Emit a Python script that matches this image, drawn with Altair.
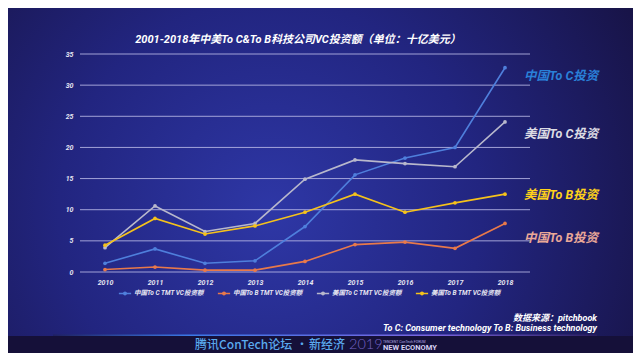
import altair as alt
import pandas as pd

years = ["2010", "2011", "2012", "2013", "2014", "2015", "2016", "2017", "2018"]
series_names = ["中国To C TMT VC投资额", "中国To B TMT VC投资额", "美国To C TMT VC投资额", "美国To B TMT VC投资额"]
cn_toc = [1.4, 3.7, 1.4, 1.8, 7.3, 15.6, 18.3, 20.0, 32.8]
cn_tob = [0.4, 0.8, 0.3, 0.3, 1.7, 4.4, 4.8, 3.8, 7.8]
us_toc = [3.9, 10.6, 6.5, 7.8, 14.9, 18.0, 17.4, 16.9, 24.1]
us_tob = [4.3, 8.6, 6.1, 7.4, 9.6, 12.5, 9.6, 11.1, 12.5]
line_colors = ["#4f7fdc", "#e8794a", "#b8b8cc", "#f5c21b"]
y_ticks = [0, 5, 10, 15, 20, 25, 30, 35]

end_labels = ["中国To C投资", "美国To C投资", "美国To B投资", "中国To B投资"]
end_label_y = [31.4, 22.2, 12.4, 5.5]
end_label_colors = ["#2a80d8", "#dcdce4", "#ffd21a", "#eaa898"]

title_text = "2001-2018年中美To C&To B科技公司VC投资额（单位：十亿美元）"
source_lines = ["数据来源：pitchbook", "To C:  Consumer technology  To B: Business technology"]

FONT = "Roboto, 'Noto Sans CJK SC', sans-serif"
CJK = "'Noto Sans CJK SC', sans-serif"

rows = []
for name, vals in zip(series_names, [cn_toc, cn_tob, us_toc, us_tob]):
    for y, v in zip(years, vals):
        rows.append({"series": name, "year": y, "value": v})
df = pd.DataFrame(rows)

W, H = 450, 218
PL, PT, PR, PB = 72, 46, 103, 81

one = alt.Data(values=[{"a": 1}])

bg = alt.Chart(one).mark_rect(
    color={
        "gradient": "radial",
        "x1": 0.42, "y1": 0.55, "r1": 0.0,
        "x2": 0.42, "y2": 0.55, "r2": 0.75,
        "stops": [
            {"offset": 0.0, "color": "#2e37a6"},
            {"offset": 0.45, "color": "#222580"},
            {"offset": 1.0, "color": "#150f38"},
        ],
    }
).encode(
    x=alt.value(-PL), x2=alt.value(W + PR), y=alt.value(-PT), y2=alt.value(H + PB)
)

bottom_bar = alt.Chart(one).mark_rect(color="#151039").encode(
    x=alt.value(-PL), x2=alt.value(W + PR), y=alt.value(282), y2=alt.value(H + PB)
)

glow_line = alt.Chart(one).mark_rect(
    color={
        "gradient": "linear",
        "x1": 0, "y1": 0, "x2": 1, "y2": 0,
        "stops": [
            {"offset": 0.0, "color": "#1e2060"},
            {"offset": 0.25, "color": "#3b78e6"},
            {"offset": 0.7, "color": "#7a64e0"},
            {"offset": 1.0, "color": "#2a1d60"},
        ],
    }
).encode(
    x=alt.value(-27), x2=alt.value(517), y=alt.value(280.5), y2=alt.value(282)
)

y_scale = alt.Scale(domain=[0, 35], nice=False)
y_axis = alt.Axis(
    title=None, values=y_ticks, domain=False, ticks=False, grid=False, zindex=1,
    labelColor="#e6e6f2", labelFontSize=7, labelFontStyle="italic",
    labelFontWeight="bold", labelFont=FONT, labelPadding=7,
)

grid = alt.Chart(pd.DataFrame({"t": y_ticks})).mark_rule(
    color="#b9b9e6", opacity=0.85, strokeWidth=1
).encode(
    y=alt.Y("t:Q", scale=y_scale, axis=y_axis, title=None),
    x=alt.value(0), x2=alt.value(W),
)

legend_symbol = "M-1,0L1,0M-0.22,0A0.22,0.22 0 1,0 0.22,0A0.22,0.22 0 1,0 -0.22,0Z"

lines = alt.Chart(df).mark_line(
    strokeWidth=1.6,
    point=alt.OverlayMarkDef(filled=True, size=14),
).encode(
    x=alt.X(
        "year:O",
        scale=alt.Scale(type="point", padding=0.5),
        axis=alt.Axis(
            title=None, labelAngle=0, domain=False, ticks=False, grid=False, zindex=1,
            labelColor="#e6e6f2", labelFontSize=7, labelFontStyle="italic",
            labelFontWeight="bold", labelFont=FONT, labelPadding=6,
        ),
    ),
    y=alt.Y("value:Q", scale=y_scale, axis=y_axis, title=None),
    color=alt.Color(
        "series:N",
        scale=alt.Scale(domain=series_names, range=line_colors),
        sort=series_names,
        legend=alt.Legend(
            title=None, orient="none", direction="horizontal", columns=4,
            legendX=38, legendY=232, symbolType=legend_symbol, symbolSize=150,
            symbolStrokeWidth=1.4, labelFontSize=6.5, labelColor="#e6e6f2",
            labelFont=FONT, labelFontStyle="italic", labelFontWeight="bold",
            columnPadding=11, labelOffset=2, zindex=1,
        ),
    ),
    order="year:O",
)

lab_df = pd.DataFrame({"label": end_labels, "y": end_label_y, "c": end_label_colors})
end_text = alt.Chart(lab_df).mark_text(
    align="left", baseline="middle", fontSize=12.5, fontStyle="italic",
    fontWeight="bold", font=FONT,
).encode(
    x=alt.value(444),
    y=alt.Y("y:Q", scale=y_scale, axis=y_axis, title=None),
    text="label:N",
    color=alt.Color("c:N", scale=None),
)

title_mark = alt.Chart(one).mark_text(
    text=title_text, align="center", baseline="middle", fontSize=11,
    fontStyle="italic", fontWeight="bold", color="#ffffff", font=FONT,
).encode(x=alt.value(218), y=alt.value(-14))

src1 = alt.Chart(one).mark_text(
    text=source_lines[0], align="right", baseline="middle", fontSize=9,
    fontStyle="italic", fontWeight="bold", color="#ffffff", font=FONT,
).encode(x=alt.value(517), y=alt.value(264))

src2 = alt.Chart(one).mark_text(
    text=source_lines[1], align="right", baseline="middle", fontSize=9,
    fontStyle="italic", fontWeight="bold", color="#ffffff", font=FONT,
).encode(x=alt.value(517), y=alt.value(274))

FY = 290.5
forum_a = alt.Chart(one).mark_text(
    text="腾讯ConTech论坛", align="left", baseline="middle", fontSize=12,
    fontWeight=500, color="#5aa9ee", font=CJK,
).encode(x=alt.value(115), y=alt.value(FY))

forum_dot = alt.Chart(one).mark_text(
    text="·", align="center", baseline="middle", fontSize=12,
    color="#5aa9ee", font=CJK,
).encode(x=alt.value(222), y=alt.value(FY))

forum_b = alt.Chart(one).mark_text(
    text="新经济", align="left", baseline="middle", fontSize=12,
    fontWeight=500, color="#5aa9ee", font=CJK,
).encode(x=alt.value(229), y=alt.value(FY))

forum2 = alt.Chart(one).mark_text(
    text="2019", align="left", baseline="middle", fontSize=14.5, fontWeight=300,
    color="#7462c4", font="Lato, sans-serif",
).encode(x=alt.value(269), y=alt.value(FY))

forum3 = alt.Chart(one).mark_text(
    text="TENCENT ConTech FORUM", align="left", baseline="middle", fontSize=3.5,
    color="#b0a8e0", font="Roboto, sans-serif",
).encode(x=alt.value(303), y=alt.value(FY - 3))

forum4 = alt.Chart(one).mark_text(
    text="NEW ECONOMY", align="left", baseline="middle", fontSize=7.5, fontWeight="bold",
    color="#d6d0f4", font="Roboto, sans-serif",
).encode(x=alt.value(303), y=alt.value(FY + 3))

chart = alt.layer(
    bg, bottom_bar, glow_line, grid, lines, end_text, title_mark, src1, src2,
    forum_a, forum_dot, forum_b, forum2, forum3, forum4,
).resolve_scale(color="independent").properties(
    width=W, height=H,
    autosize=alt.AutoSizeParams(type="none"),
    padding={"left": PL, "top": PT, "right": PR, "bottom": PB},
).configure(
    background="#181444",
).configure_view(stroke=None)

chart.save("out.html", embed_options={"renderer": "svg", "actions": False})
